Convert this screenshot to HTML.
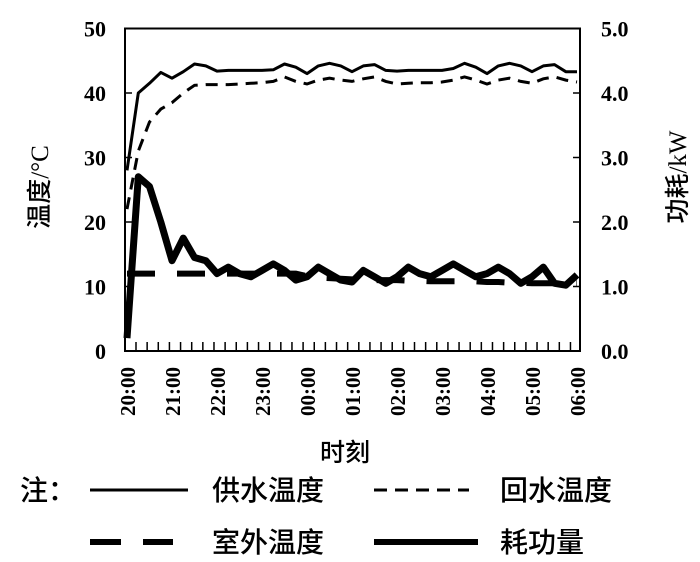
<!DOCTYPE html>
<html><head><meta charset="utf-8"><style>
html,body{margin:0;padding:0;background:#fff;}
svg{display:block;}
text{font-family:"Liberation Serif","Noto Serif CJK SC",serif;fill:#000;}
.cjk{font-family:"Liberation Serif","Noto Sans CJK SC",sans-serif;font-weight:500;}
</style></head><body>
<svg id="chart" width="700" height="562" viewBox="0 0 700 562">
<g id="axes"></g>
<g id="series"></g>
<text x="345" y="461" font-size="25" text-anchor="middle" class="cjk">时刻</text>
<text transform="translate(48,187) rotate(-90)" font-size="25" text-anchor="middle" class="cjk">温度/°C</text>
<text transform="translate(686,177) rotate(-90)" font-size="25" text-anchor="middle" class="cjk">功耗/kW</text>
<g>
<text x="20" y="500" font-size="28" class="cjk">注：</text>
<line x1="90" y1="490" x2="188" y2="490" stroke="#000" stroke-width="3"/>
<text x="212" y="500" font-size="28" class="cjk">供水温度</text>
<line x1="374" y1="490" x2="469" y2="490" stroke="#000" stroke-width="3" stroke-dasharray="13,8"/>
<text x="500" y="500" font-size="28" class="cjk">回水温度</text>
<line x1="90" y1="542" x2="173" y2="542" stroke="#000" stroke-width="6" stroke-dasharray="31,22"/>
<text x="212" y="552" font-size="28" class="cjk">室外温度</text>
<line x1="374" y1="542" x2="478" y2="542" stroke="#000" stroke-width="6"/>
<text x="500" y="552" font-size="28" class="cjk">耗功量</text>
</g>
</svg>
<script>
const timeLabels=["20:00","21:00","22:00","23:00","00:00","01:00","02:00","03:00","04:00","05:00","06:00"];
const yTicks=[0,10,20,30,40,50];
const y2Ticks=["0.0","1.0","2.0","3.0","4.0","5.0"];
const supplyTemp=[28,40,41.5,43.2,42.3,43.3,44.5,44.2,43.4,43.5,43.5,43.5,43.5,43.6,44.5,44,43,44.2,44.6,44.2,43.3,44.2,44.4,43.5,43.4,43.5,43.5,43.5,43.5,43.8,44.6,44,43,44.2,44.6,44.2,43.3,44.2,44.4,43.3,43.3];
const returnTemp=[22,31,35.5,37.5,38.5,40,41.2,41.3,41.3,41.3,41.4,41.5,41.6,41.8,42.5,41.8,41.4,42,42.3,42,41.8,42.2,42.5,41.8,41.4,41.5,41.6,41.6,41.7,42,42.5,42,41.4,42,42.3,41.8,41.5,42.2,42.5,42,41.7];
const outdoorTemp=[12,12,12,12,12,12,12,12,12,12,12,12,12,12,12,12,11.6,11.4,11.3,11.2,11.1,11.1,11,11,11,10.9,10.9,10.8,10.8,10.8,10.8,10.8,10.7,10.7,10.6,10.6,10.5,10.5,10.5,10.5,10.5];
const power=[0.2,2.7,2.55,2.0,1.4,1.75,1.45,1.4,1.2,1.3,1.2,1.15,1.25,1.35,1.25,1.1,1.15,1.3,1.2,1.1,1.07,1.25,1.15,1.05,1.15,1.3,1.2,1.15,1.25,1.35,1.25,1.15,1.2,1.3,1.2,1.05,1.15,1.3,1.05,1.02,1.18];

const NS="http://www.w3.org/2000/svg";
const L=125,R=580,T=28.5,B=351;
function yT(v){return B-(v/50)*(B-T);}
function yP(v){return B-(v/5)*(B-T);}
function xI(i){return 127+i*(577-127)/40;}
function mk(tag,attrs,parent){const e=document.createElementNS(NS,tag);for(const k in attrs)e.setAttribute(k,attrs[k]);parent.appendChild(e);return e;}
const ax=document.getElementById('axes'), sg=document.getElementById('series');
let frame=mk('rect',{x:L,y:T,width:R-L,height:B-T,fill:'none',stroke:'#000','stroke-width':2},ax);


yTicks.forEach((v,i)=>{
  const y=yT(v);
  let t=mk('line',{x1:L,y1:y,x2:L+7,y2:y,stroke:'#000','stroke-width':1.5},ax);
  
  
  let lb=mk('text',{x:106,y:y+8,'font-size':22,'font-weight':'bold','text-anchor':'end'},ax);
  lb.textContent=v;
  
  
  let t2=mk('line',{x1:R-7,y1:y,x2:R,y2:y,stroke:'#000','stroke-width':1.5},ax);
  
  
  let lb2=mk('text',{x:601,y:y+8,'font-size':22,'font-weight':'bold'},ax);
  lb2.textContent=y2Ticks[i];
  
  
});
for(let i=0;i<40;i++){
  const x=136+i*11.14;
  let t=mk('line',{x1:x,y1:B,x2:x,y2:B-9,stroke:'#000','stroke-width':1.5},ax);
  
  
}
timeLabels.forEach((s,i)=>{
  const x=127+i*45;
  let lb=mk('text',{transform:`translate(${x+8},${367}) rotate(-90)`,'font-size':21,'font-weight':'bold','text-anchor':'end'},ax);
  lb.textContent=s;
  
  
});
function path(arr,fy){return arr.map((v,i)=>(i?'L':'M')+xI(i).toFixed(1)+','+fy(v).toFixed(1)).join(' ');}
let p1=mk('path',{d:path(outdoorTemp,yT),fill:'none',stroke:'#000','stroke-width':6,'stroke-dasharray':'28,22'},sg);


let p2=mk('path',{d:path(power,yP),fill:'none',stroke:'#000','stroke-width':7,'stroke-linejoin':'round'},sg);


let p3=mk('path',{d:path(returnTemp,yT),fill:'none',stroke:'#000','stroke-width':3,'stroke-dasharray':'12,8'},sg);


let p4=mk('path',{d:path(supplyTemp,yT),fill:'none',stroke:'#000','stroke-width':3,'stroke-linejoin':'round'},sg);


</script>
</body></html>
